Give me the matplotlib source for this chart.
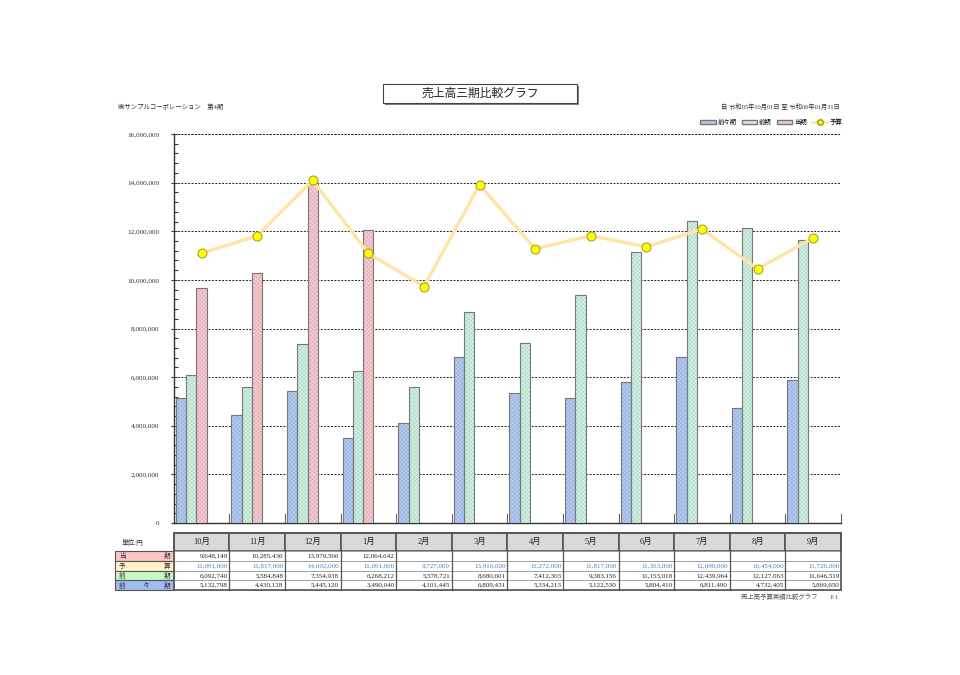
import matplotlib
matplotlib.use("Agg")
import matplotlib.pyplot as plt
import matplotlib.patches as mpatches
import matplotlib.lines as mlines
from matplotlib.transforms import blended_transform_factory
from matplotlib.ticker import MultipleLocator, FuncFormatter

plt.rcParams['font.family'] = ['Liberation Serif', 'Noto Sans CJK JP', 'DejaVu Sans']
plt.rcParams['hatch.linewidth'] = 0.3

months = ['10月', '11月', '12月', '1月', '2月', '3月', '4月', '5月', '6月', '7月', '8月', '9月']
current = [9648149, 10285436, 13979566, 12064642]
budget = [11091000, 11817000, 14092000, 11091000, 9727000, 13910000,
          11272000, 11817000, 11363000, 12090000, 10454000, 11726000]
previous = [6092740, 5584848, 7354938, 6268212, 5578721, 8680601,
            7412303, 9383156, 11153018, 12439964, 12127063, 11646519]
prev2 = [5132798, 4430128, 5445120, 3490040, 4101445, 6809431,
         5334213, 5122530, 5804410, 6811490, 4732405, 5869650]

W, H = 960, 675
fig = plt.figure(figsize=(9.6, 6.75), dpi=100)

def fx(px):
    return px / W

def fy(py):
    return 1 - py / H

ax_l, ax_r, ax_t, ax_b = 173.7, 841.0, 134.0, 523.0
ax = fig.add_axes([fx(ax_l), fy(ax_b), fx(ax_r - ax_l), (ax_b - ax_t) / H])

n = len(months)
x = list(range(n))
bw = 0.185
series = [
    (prev2, -2 * bw, '#b4caee', '#8ea9d8'),
    (previous, -1 * bw, '#d2efe3', '#a2d2bc'),
    (current, 0.0, '#f5ccd2', '#dca2ae'),
]
for vals, off, fc, hc in series:
    xs = [i + off for i in range(len(vals))]
    ax.bar(xs, vals, width=bw, color=fc, edgecolor=hc, hatch='xxxxxxxx', linewidth=0, zorder=3)
    ax.bar(xs, vals, width=bw, fill=False, edgecolor='#777777', linewidth=0.8, zorder=4)

ax.plot(x, budget, color='#ffe4a6', linewidth=2.4, zorder=5)
ax.plot(x, budget, linestyle='none', marker='o', markersize=6.5,
        markerfacecolor='#ffff00', markeredgecolor='#9a9a20', markeredgewidth=0.7, zorder=6)

ax.set_xlim(-0.5, n - 0.5)
ax.set_ylim(0, 16000000)
ax.yaxis.set_major_locator(MultipleLocator(2000000))
ax.yaxis.set_minor_locator(MultipleLocator(400000))
ax.yaxis.set_major_formatter(FuncFormatter(lambda v, p: f"{int(v):,}"))
ax.tick_params(axis='y', which='major', direction='inout', length=5, width=0.8,
               labelsize=5.2, colors='#333333', pad=8)
ax.tick_params(axis='y', which='minor', direction='in', length=3, width=0.8, colors='#333333')
ax.set_xticks([])
ax.grid(axis='y', which='major', color='#222222', linestyle=(0, (2, 1.5)), linewidth=0.7, zorder=1)
for s in ['top', 'right']:
    ax.spines[s].set_visible(False)
ax.spines['left'].set_color('#333333')
ax.spines['bottom'].set_color('#333333')
ax.spines['left'].set_linewidth(1.0)
ax.spines['bottom'].set_linewidth(1.0)
ax.axhline(16000000, color='#222222', linestyle=(0, (2, 1.5)), linewidth=0.7, zorder=1, clip_on=False)
for b in range(1, n + 1):
    ax.plot([b - 0.5, b - 0.5], [0, 350000], color='#666666', linewidth=0.8, zorder=2, clip_on=False)

# Title box
shadow = mpatches.Rectangle((fx(385), fy(105)), fx(194), (19) / H, transform=fig.transFigure,
                            facecolor='#808080', edgecolor='none')
box = mpatches.Rectangle((fx(383), fy(103)), fx(194), (19) / H, transform=fig.transFigure,
                         facecolor='white', edgecolor='#444444', linewidth=0.8)
fig.patches.extend([shadow, box])
fig.text(fx(480), fy(94), '売上高三期比較グラフ', ha='center', va='center', fontsize=8.5, color='#222222')

fig.text(fx(118), fy(107), '㈱サンプルコーポレーション　第4期', ha='left', va='center', fontsize=4.6, color='#333333')
fig.text(fx(840), fy(107), '自 令和05年10月01日 至 令和06年01月31日', ha='right', va='center', fontsize=4.6, color='#333333')
fig.text(fx(838), fy(597), '売上高予算実績比較グラフ　　P.1', ha='right', va='center', fontsize=4.6, color='#555555')

# Legend
h1 = mpatches.Patch(facecolor='#b4caee', edgecolor='#777777', label='前々期')
h2 = mpatches.Patch(facecolor='#d2efe3', edgecolor='#777777', label='前期')
h3 = mpatches.Patch(facecolor='#f5ccd2', edgecolor='#777777', label='当期')
h4 = mlines.Line2D([], [], color='#ffe4a6', linewidth=2, marker='o', markersize=4,
                   markerfacecolor='#ffff00', markeredgecolor='#9a9a20', label='予算')
fig.legend(handles=[h1, h2, h3, h4], loc='center right', bbox_to_anchor=(fx(842), fy(122)),
           ncol=4, frameon=False, fontsize=4.6, handlelength=2.4, handleheight=0.5,
           columnspacing=0.8, handletextpad=0.3, borderpad=0, borderaxespad=0)

# Table
tr = blended_transform_factory(ax.transData, fig.transFigure)
hdr_top, hdr_bot = 533.0, 551.0
row_h = 9.75
rows = [
    ('当期', current, '#ffc4c4', '#222222', ['当', '期']),
    ('予算', budget, '#fff4cc', '#3d85c6', ['予', '算']),
    ('前期', previous, '#c8f8c8', '#222222', ['前', '期']),
    ('前々期', prev2, '#9fbcf0', '#222222', ['前', '々', '期']),
]
tab_bot = hdr_bot + row_h * len(rows)

for i, m in enumerate(months):
    r = mpatches.Rectangle((i - 0.5, fy(hdr_bot)), 1, (hdr_bot - hdr_top) / H, transform=tr,
                           facecolor='#d9d9d9', edgecolor='#555555', linewidth=1.2, clip_on=False)
    fig.patches.append(r)
    fig.text(i, fy((hdr_top + hdr_bot) / 2), m, transform=tr, ha='center', va='center',
             fontsize=6.0, color='#222222')
fig.text(fx(133), fy(542), '単位:円', ha='center', va='center', fontsize=4.8, color='#333333')

for k, (name, vals, lbl_c, txt_c, chars) in enumerate(rows):
    top = hdr_bot + k * row_h
    bot = top + row_h
    yc = fy((top + bot) / 2)
    lab = mpatches.Rectangle((fx(115), fy(bot)), fx(ax_l - 115), row_h / H, transform=fig.transFigure,
                             facecolor=lbl_c, edgecolor='#555555', linewidth=0.8)
    fig.patches.append(lab)
    if len(chars) == 2:
        fig.text(fx(119), yc, chars[0], ha='left', va='center', fontsize=4.8, color='#333333')
        fig.text(fx(170), yc, chars[1], ha='right', va='center', fontsize=4.8, color='#333333')
    else:
        fig.text(fx(119), yc, chars[0], ha='left', va='center', fontsize=4.8, color='#333333')
        fig.text(fx(146), yc, chars[1], ha='center', va='center', fontsize=4.8, color='#333333')
        fig.text(fx(170), yc, chars[2], ha='right', va='center', fontsize=4.8, color='#333333')
    for i in range(n):
        c = mpatches.Rectangle((i - 0.5, fy(bot)), 1, row_h / H, transform=tr,
                               facecolor='white', edgecolor='#999999', linewidth=0.6, clip_on=False)
        fig.patches.append(c)
        if i < len(vals):
            fig.text(i + 0.47, yc, f"{vals[i]:,}", transform=tr, ha='right', va='center',
                     fontsize=5.0, color=txt_c)

outer = mpatches.Rectangle((-0.5, fy(tab_bot)), n, (tab_bot - hdr_top) / H, transform=tr,
                           facecolor='none', edgecolor='#555555', linewidth=1.2, clip_on=False)
fig.patches.append(outer)
for i in range(1, n):
    fig.add_artist(mlines.Line2D([i - 0.5, i - 0.5], [fy(tab_bot), fy(hdr_bot)], transform=tr,
                                 color='#555555', linewidth=0.9))

fig.savefig('out.png', dpi=100)
